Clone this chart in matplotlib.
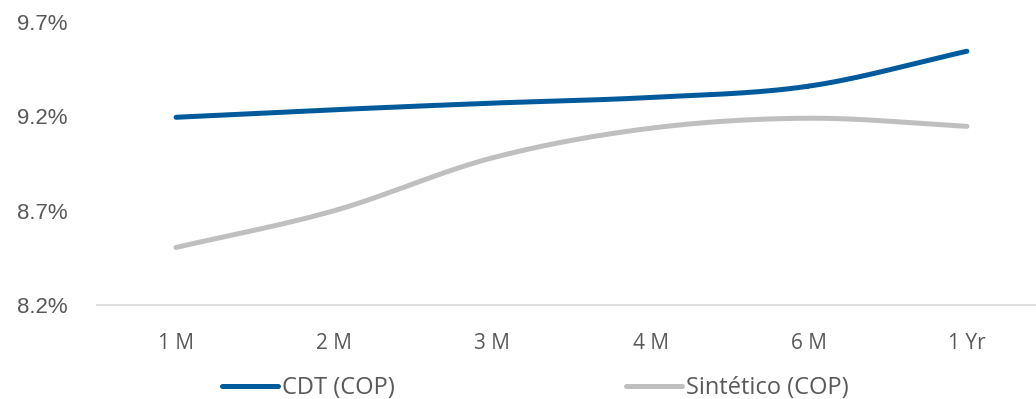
import numpy as np
import matplotlib
matplotlib.use("Agg")
import matplotlib.pyplot as plt

tenors = ["1 M", "2 M", "3 M", "4 M", "6 M", "1 Yr"]
cdt = [9.195, 9.235, 9.27, 9.30, 9.36, 9.545]
sintetico = [8.505, 8.70, 8.98, 9.137, 9.19, 9.147]

yticks = [8.2, 8.7, 9.2, 9.7]


def smooth(xs, ys, n=30):
    # catmull-rom through the points, like excel's smoothed line
    xs = np.asarray(xs, float)
    ys = np.asarray(ys, float)
    px = np.concatenate([[2 * xs[0] - xs[1]], xs, [2 * xs[-1] - xs[-2]]])
    py = np.concatenate([[2 * ys[0] - ys[1]], ys, [2 * ys[-1] - ys[-2]]])
    outx, outy = [], []
    for i in range(1, len(px) - 2):
        t = np.linspace(0, 1, n)
        for p, out in ((px, outx), (py, outy)):
            p0, p1, p2, p3 = p[i - 1], p[i], p[i + 1], p[i + 2]
            out.extend(0.5 * ((2 * p1) + (-p0 + p2) * t
                              + (2 * p0 - 5 * p1 + 4 * p2 - p3) * t ** 2
                              + (-p0 + 3 * p1 - 3 * p2 + p3) * t ** 3))
    return outx, outy


fig = plt.figure(figsize=(10.36, 3.99), dpi=100)
ax = fig.add_axes([97 / 1036, 1 - 305 / 399, 949 / 1036, 283 / 399])

x = np.arange(len(tenors))
sx, sy = smooth(x, cdt)
ax.plot(sx, sy, color="#005A9C", lw=3.6, solid_capstyle="round", label="CDT (COP)")
sx, sy = smooth(x, sintetico)
ax.plot(sx, sy, color="#BFBFBF", lw=3.6, solid_capstyle="round", label="Sintético (COP)")

ax.set_xlim(-0.5, len(tenors) - 0.5)
ax.set_ylim(8.2, 9.7)
ax.set_yticks(yticks)
ax.set_yticklabels([f"{v:.1f}%" for v in yticks], fontfamily="Liberation Sans",
                   fontsize=16, color="#595959")
ax.set_xticks(x)
ax.set_xticklabels(tenors, fontfamily="Open Sans", fontsize=15, color="#595959")
ax.tick_params(length=0)
ax.tick_params(axis="x", pad=20)
ax.tick_params(axis="y", pad=21)
for s in ["top", "right", "left"]:
    ax.spines[s].set_visible(False)
ax.spines["bottom"].set_color("#D9D9D9")
ax.spines["bottom"].set_linewidth(1.2)

leg = fig.legend(loc="center left", bbox_to_anchor=(222 / 1036, 1 - 388 / 399), ncol=2,
                 frameon=False, handlelength=2.37, handletextpad=0.17, columnspacing=9.8,
                 prop={"family": "Open Sans", "size": 17}, borderaxespad=0, borderpad=0)
for t in leg.get_texts():
    t.set_color("#595959")

fig.savefig("out.png", dpi=100)
